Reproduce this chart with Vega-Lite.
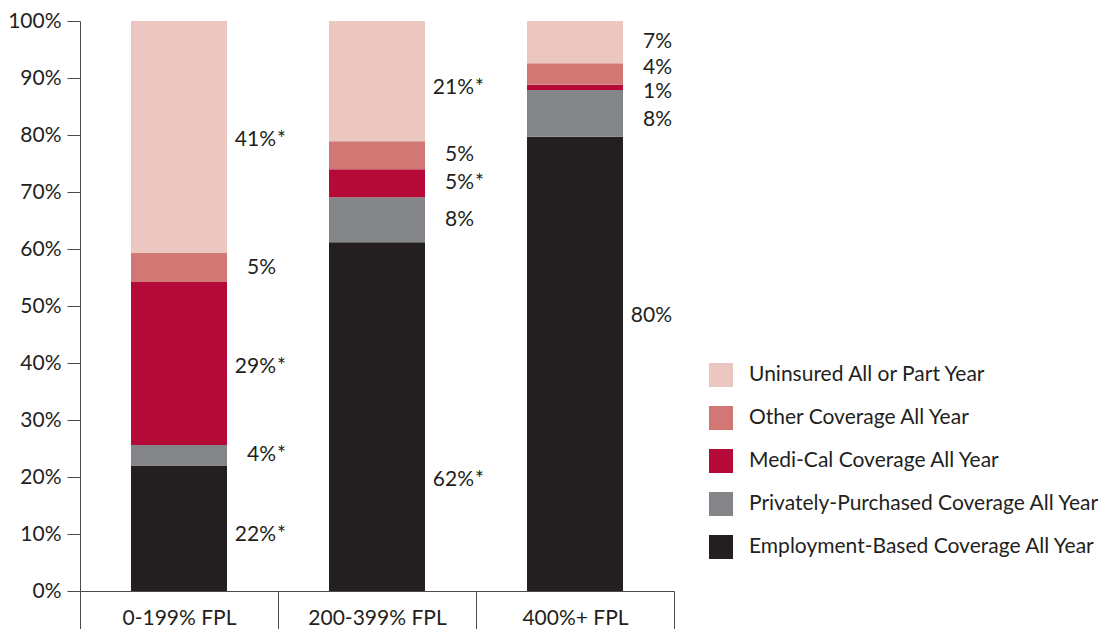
{
  "$schema": "https://vega.github.io/schema/vega-lite/v6.json",
  "width": 594,
  "height": 570,
  "autosize": {"type": "none"},
  "padding": {"left": 80, "top": 21, "right": 440, "bottom": 38},
  "config": {
    "view": {"stroke": null},
    "font": "Lato",
    "axis": {"labelFont": "Lato", "labelColor": "#231f20", "domainColor": "#4a4a4a", "tickColor": "#4a4a4a", "grid": false, "title": null},
    "legend": {"labelFont": "Lato"}
  },
  "data": {
    "values": [
      {"group": "0-199% FPL", "type": "Employment-Based Coverage All Year", "order": 1, "value": 22.0, "pct": "22%", "star": true, "k": "1e"},
      {"group": "0-199% FPL", "type": "Privately-Purchased Coverage All Year", "order": 2, "value": 3.6, "pct": "4%", "star": true, "k": "1p"},
      {"group": "0-199% FPL", "type": "Medi-Cal Coverage All Year", "order": 3, "value": 28.6, "pct": "29%", "star": true, "k": "1m"},
      {"group": "0-199% FPL", "type": "Other Coverage All Year", "order": 4, "value": 5.1, "pct": "5%", "star": false, "k": "1o"},
      {"group": "0-199% FPL", "type": "Uninsured All or Part Year", "order": 5, "value": 40.7, "pct": "41%", "star": true, "k": "1u"},
      {"group": "200-399% FPL", "type": "Employment-Based Coverage All Year", "order": 1, "value": 61.2, "pct": "62%", "star": true, "k": "2e"},
      {"group": "200-399% FPL", "type": "Privately-Purchased Coverage All Year", "order": 2, "value": 7.9, "pct": "8%", "star": false, "k": "2p"},
      {"group": "200-399% FPL", "type": "Medi-Cal Coverage All Year", "order": 3, "value": 4.9, "pct": "5%", "star": true, "k": "2m"},
      {"group": "200-399% FPL", "type": "Other Coverage All Year", "order": 4, "value": 4.9, "pct": "5%", "star": false, "k": "2o"},
      {"group": "200-399% FPL", "type": "Uninsured All or Part Year", "order": 5, "value": 21.1, "pct": "21%", "star": true, "k": "2u"},
      {"group": "400%+ FPL", "type": "Employment-Based Coverage All Year", "order": 1, "value": 79.7, "pct": "80%", "star": false, "k": "3e"},
      {"group": "400%+ FPL", "type": "Privately-Purchased Coverage All Year", "order": 2, "value": 8.2, "pct": "8%", "star": false, "k": "3p"},
      {"group": "400%+ FPL", "type": "Medi-Cal Coverage All Year", "order": 3, "value": 0.9, "pct": "1%", "star": false, "k": "3m"},
      {"group": "400%+ FPL", "type": "Other Coverage All Year", "order": 4, "value": 3.8, "pct": "4%", "star": false, "k": "3o"},
      {"group": "400%+ FPL", "type": "Uninsured All or Part Year", "order": 5, "value": 7.4, "pct": "7%", "star": false, "k": "3u"}
    ]
  },
  "transform": [
    {"stack": "value", "groupby": ["group"], "sort": [{"field": "order", "order": "ascending"}], "as": ["y0", "y1"]},
    {"calculate": "(datum.y0 + datum.y1) / 2", "as": "mid"}
  ],
  "encoding": {
    "x": {
      "field": "group", "type": "nominal", "sort": null,
      "scale": {"paddingInner": 0, "paddingOuter": 0},
      "axis": {"labelAngle": 0, "labelFontSize": 21, "tickBand": "extent", "tickSize": 38, "labelPadding": -22, "labelBaseline": "top", "domainWidth": 1, "tickWidth": 1}
    }
  },
  "layer": [
    {
      "mark": {"type": "bar", "width": 96},
      "encoding": {
        "y": {
          "field": "y0", "type": "quantitative",
          "scale": {"domain": [0, 100], "nice": false},
          "axis": {"values": [0, 10, 20, 30, 40, 50, 60, 70, 80, 90, 100], "labelExpr": "datum.value + '%'", "labelFontSize": 21, "tickSize": 13, "labelPadding": 6}
        },
        "y2": {"field": "y1"},
        "color": {
          "field": "type", "type": "nominal",
          "scale": {
            "domain": ["Uninsured All or Part Year", "Other Coverage All Year", "Medi-Cal Coverage All Year", "Privately-Purchased Coverage All Year", "Employment-Based Coverage All Year"],
            "range": ["#ecc7c2", "#d27874", "#b50938", "#848589", "#231f20"]
          },
          "legend": {
            "title": null, "orient": "none", "legendX": 629, "legendY": 342,
            "symbolType": "square", "symbolSize": 576, "symbolStrokeWidth": 0,
            "labelFontSize": 21, "labelOffset": 16, "rowPadding": 19, "labelColor": "#231f20", "labelLimit": 400
          }
        }
      }
    },
    {
      "transform": [{"filter": "indexof(['1o','1p','2o','2m','2p','3u'], datum.k) >= 0"}],
      "encoding": {"y": {"field": "mid", "type": "quantitative"}},
      "layer": [
        {"mark": {"type": "text", "align": "right", "dx": 97, "dy": 0, "fontSize": 21, "color": "#231f20"}, "encoding": {"text": {"field": "pct"}}},
        {"transform": [{"filter": "datum.star"}], "mark": {"type": "text", "align": "left", "dx": 98, "dy": 0, "fontSize": 21, "color": "#231f20"}, "encoding": {"text": {"value": "*"}}}
      ]
    },
    {
      "transform": [{"filter": "indexof(['1u','1m'], datum.k) >= 0"}],
      "encoding": {"y": {"field": "mid", "type": "quantitative"}},
      "layer": [
        {"mark": {"type": "text", "align": "right", "dx": 97, "dy": 3, "fontSize": 21, "color": "#231f20"}, "encoding": {"text": {"field": "pct"}}},
        {"transform": [{"filter": "datum.star"}], "mark": {"type": "text", "align": "left", "dx": 98, "dy": 3, "fontSize": 21, "color": "#231f20"}, "encoding": {"text": {"value": "*"}}}
      ]
    },
    {
      "transform": [{"filter": "indexof(['1e','2u','3p'], datum.k) >= 0"}],
      "encoding": {"y": {"field": "mid", "type": "quantitative"}},
      "layer": [
        {"mark": {"type": "text", "align": "right", "dx": 97, "dy": 7, "fontSize": 21, "color": "#231f20"}, "encoding": {"text": {"field": "pct"}}},
        {"transform": [{"filter": "datum.star"}], "mark": {"type": "text", "align": "left", "dx": 98, "dy": 7, "fontSize": 21, "color": "#231f20"}, "encoding": {"text": {"value": "*"}}}
      ]
    },
    {
      "transform": [{"filter": "datum.k == '2e'"}],
      "encoding": {"y": {"field": "mid", "type": "quantitative"}},
      "layer": [
        {"mark": {"type": "text", "align": "right", "dx": 97, "dy": 63, "fontSize": 21, "color": "#231f20"}, "encoding": {"text": {"field": "pct"}}},
        {"transform": [{"filter": "datum.star"}], "mark": {"type": "text", "align": "left", "dx": 98, "dy": 63, "fontSize": 21, "color": "#231f20"}, "encoding": {"text": {"value": "*"}}}
      ]
    },
    {
      "transform": [{"filter": "datum.k == '3e'"}],
      "encoding": {"y": {"field": "mid", "type": "quantitative"}},
      "layer": [
        {"mark": {"type": "text", "align": "right", "dx": 97, "dy": -48, "fontSize": 21, "color": "#231f20"}, "encoding": {"text": {"field": "pct"}}}
      ]
    },
    {
      "transform": [{"filter": "datum.k == '3m'"}],
      "encoding": {"y": {"field": "mid", "type": "quantitative"}},
      "layer": [
        {"mark": {"type": "text", "align": "right", "dx": 97, "dy": 5, "fontSize": 21, "color": "#231f20"}, "encoding": {"text": {"field": "pct"}}}
      ]
    },
    {
      "transform": [{"filter": "datum.k == '3o'"}],
      "encoding": {"y": {"field": "mid", "type": "quantitative"}},
      "layer": [
        {"mark": {"type": "text", "align": "right", "dx": 97, "dy": -6, "fontSize": 21, "color": "#231f20"}, "encoding": {"text": {"field": "pct"}}}
      ]
    }
  ]
}
